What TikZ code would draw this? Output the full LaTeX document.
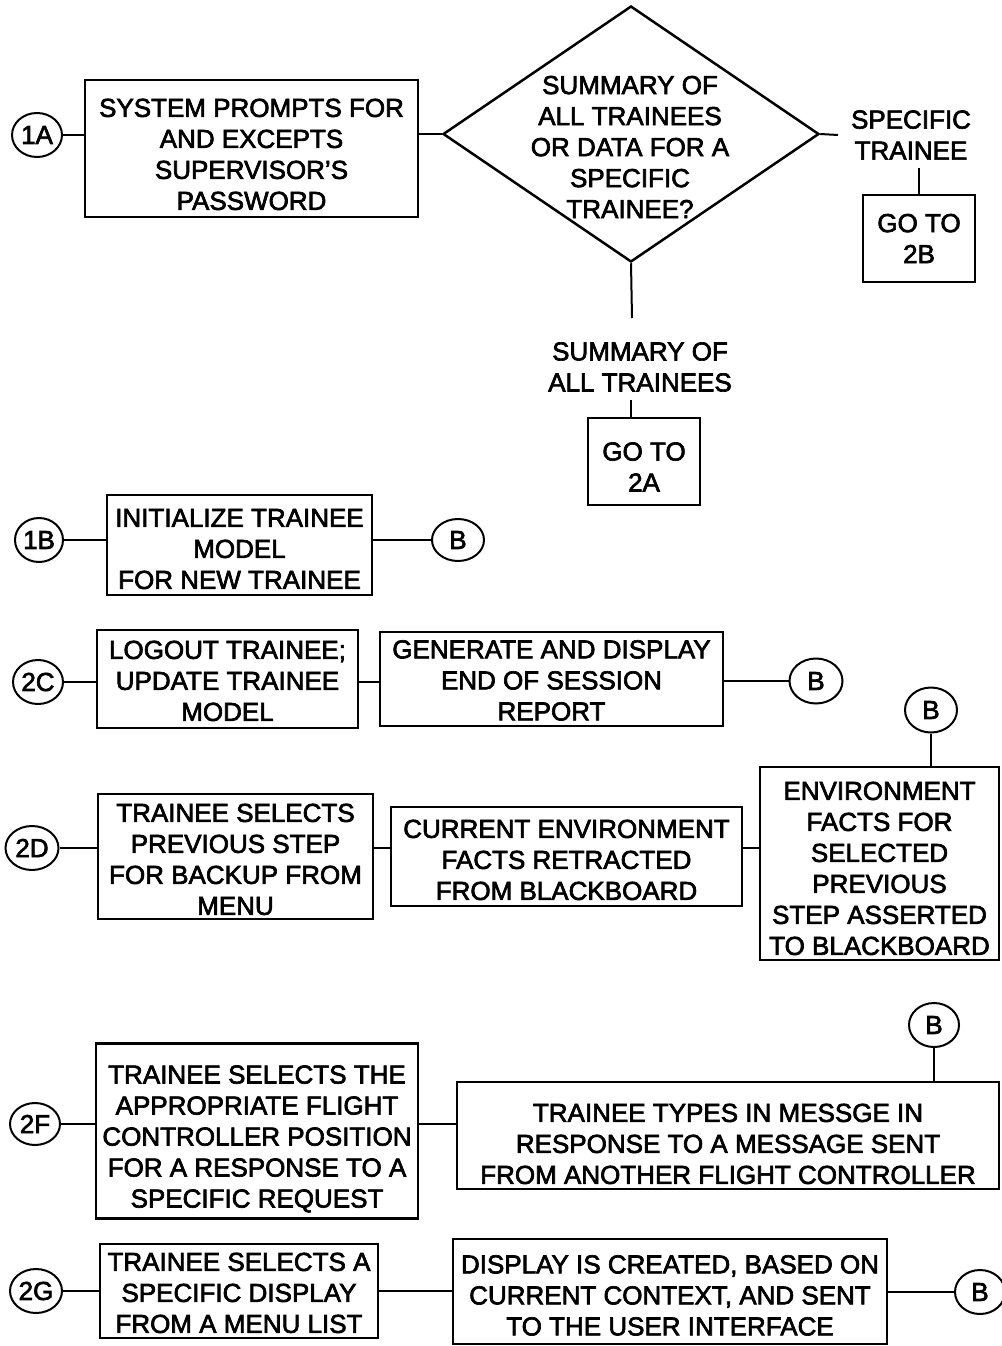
\documentclass[tikz,border=0pt]{standalone}
\usepackage{fontspec}
\setmainfont{Liberation Sans}[FakeBold=2.5]
\usetikzlibrary{shapes.geometric}
\newcommand{\tup}[1]{\rule{0pt}{#1}}
\begin{document}
\begin{tikzpicture}[x=1pt,y=-1pt,
  every node/.style={font=\fontsize{26}{31}\selectfont},
  box/.style={draw, line width=2.5pt, align=center, inner sep=0pt},
  conn/.style={draw, ellipse, line width=2pt, inner sep=0pt, minimum width=50pt, minimum height=44pt},
  lbl/.style={align=center, inner sep=8pt},
  wire/.style={line width=2pt},
  dec/.style={draw, diamond, line width=2.5pt, minimum width=376pt, minimum height=256pt, inner sep=0pt}
]
\fill[white] (0,0) rectangle (1001,1346);
\useasboundingbox (0,0) rectangle (1001,1346);

% ---- 1A ----
\node[conn] (c1A) at (37,135) {1A};
\node[box, minimum width=333pt, minimum height=137pt] (p1) at (251.5,148.5) {\tup{30pt}SYSTEM PROMPTS FOR\\AND EXCEPTS\\SUPERVISOR'S\\PASSWORD};
\node[dec] (dia) at (631,134) {};
\node[align=center, inner sep=0pt] (diat) at (630,147) {SUMMARY OF\\ALL TRAINEES\\OR DATA FOR A\\SPECIFIC\\TRAINEE?};
\coordinate (dright) at (838,135);
\node[lbl] (spec) at (911,135) {SPECIFIC\\TRAINEE};
\node[box, minimum width=112pt, minimum height=87pt] (g2B) at (919,238.5) {GO TO\\2B};
\coordinate (dbot) at (632,318);
\node[lbl] (summ) at (640,367) {SUMMARY OF\\ALL TRAINEES};
\node[box, minimum width=112pt, minimum height=87pt] (g2A) at (644,461.5) {\tup{29pt}GO TO\\2A};

\draw[wire] (c1A.east) -- (c1A.east -| p1.west);
\draw[wire] (p1.east |- dia.west) -- (dia.west);
\draw[wire] (dia.east) -- (dright);
\draw[wire] (spec.south -| g2B.north) -- (g2B.north);
\draw[wire] (dia.south) -- (dbot);
\draw[wire] (summ.south -| dia.south) -- (g2A.north -| dia.south);

% ---- 1B ----
\node[conn, minimum width=48pt] (c1B) at (39,540) {1B};
\node[box, minimum width=265pt, minimum height=100pt] (p1B) at (239.5,545) {\tup{26pt}INITIALIZE TRAINEE\\MODEL\\FOR NEW TRAINEE};
\node[conn, minimum width=52pt, minimum height=42pt] (b1) at (458,540) {B};
\draw[wire] (c1B.east) -- (c1B.east -| p1B.west);
\draw[wire] (p1B.east |- b1.west) -- (b1.west);

% ---- 2C ----
\node[conn] (c2C) at (38,682) {2C};
\node[box, minimum width=261pt, minimum height=98pt] (p2C) at (227.5,679) {\tup{22pt}LOGOUT TRAINEE;\\UPDATE TRAINEE\\MODEL};
\node[box, minimum width=343pt, minimum height=94pt] (g2C) at (551.5,679) {\tup{21pt}GENERATE AND DISPLAY\\END OF SESSION\\REPORT};
\node[conn, minimum width=53pt, minimum height=45pt] (b2) at (816,681) {B};
\draw[wire] (c2C.east) -- (c2C.east -| p2C.west);
\draw[wire] (p2C.east |- c2C.east) -- (g2C.west |- c2C.east);
\draw[wire] (g2C.east |- b2.west) -- (b2.west);

% ---- 2D ----
\node[conn, minimum width=53pt] (c2D) at (32,848) {2D};
\node[box, minimum width=275pt, minimum height=125pt] (p2D) at (235.5,856.5) {\tup{24pt}TRAINEE SELECTS\\PREVIOUS STEP\\FOR BACKUP FROM\\MENU};
\node[box, minimum width=351pt, minimum height=99pt] (r2D) at (566.5,856.5) {\tup{25pt}CURRENT ENVIRONMENT\\FACTS RETRACTED\\FROM BLACKBOARD};
\node[box, minimum width=239pt, minimum height=193pt] (e2D) at (879.5,863.5) {\tup{28pt}ENVIRONMENT\\FACTS FOR\\SELECTED\\PREVIOUS\\STEP ASSERTED\\TO BLACKBOARD};
\node[conn, minimum width=52pt, minimum height=45pt] (b3) at (931,710) {B};
\draw[wire] (c2D.east) -- (c2D.east -| p2D.west);
\draw[wire] (p2D.east |- c2D.east) -- (r2D.west |- c2D.east);
\draw[wire] (r2D.east |- c2D.east) -- (e2D.west |- c2D.east);
\draw[wire] (b3.south) -- (b3.south |- e2D.north);

% ---- 2F ----
\node[conn, minimum height=42pt] (c2F) at (35,1124) {2F};
\node[box, minimum width=322pt, minimum height=175pt] (p2F) at (257,1131) {\tup{34pt}TRAINEE SELECTS THE\\APPROPRIATE FLIGHT\\CONTROLLER POSITION\\FOR A RESPONSE TO A\\SPECIFIC REQUEST};
\node[box, minimum width=542pt, minimum height=107pt] (t2F) at (728,1135.5) {\tup{35pt}TRAINEE TYPES IN MESSGE IN\\RESPONSE TO A MESSAGE SENT\\FROM ANOTHER FLIGHT CONTROLLER};
\node[conn] (b4) at (934,1025) {B};
\draw[wire] (c2F.east) -- (c2F.east -| p2F.west);
\draw[wire] (p2F.east |- c2F.east) -- (t2F.west |- c2F.east);
\draw[wire] (b4.south) -- (b4.south |- t2F.north);

% ---- 2G ----
\node[conn, minimum width=52pt] (c2G) at (36,1291) {2G};
\node[box, minimum width=278pt, minimum height=94pt] (p2G) at (239,1291) {\tup{22pt}TRAINEE SELECTS A\\SPECIFIC DISPLAY\\FROM A MENU LIST};
\node[box, minimum width=434pt, minimum height=105pt] (d2G) at (670,1291.5) {\tup{26pt}DISPLAY IS CREATED, BASED ON\\CURRENT CONTEXT, AND SENT\\TO THE USER INTERFACE};
\node[conn] (b5) at (980,1292) {B};
\draw[wire] (c2G.east) -- (c2G.east -| p2G.west);
\draw[wire] (p2G.east |- c2G.east) -- (d2G.west |- c2G.east);
\draw[wire] (d2G.east |- b5.west) -- (b5.west);
\end{tikzpicture}
\end{document}
